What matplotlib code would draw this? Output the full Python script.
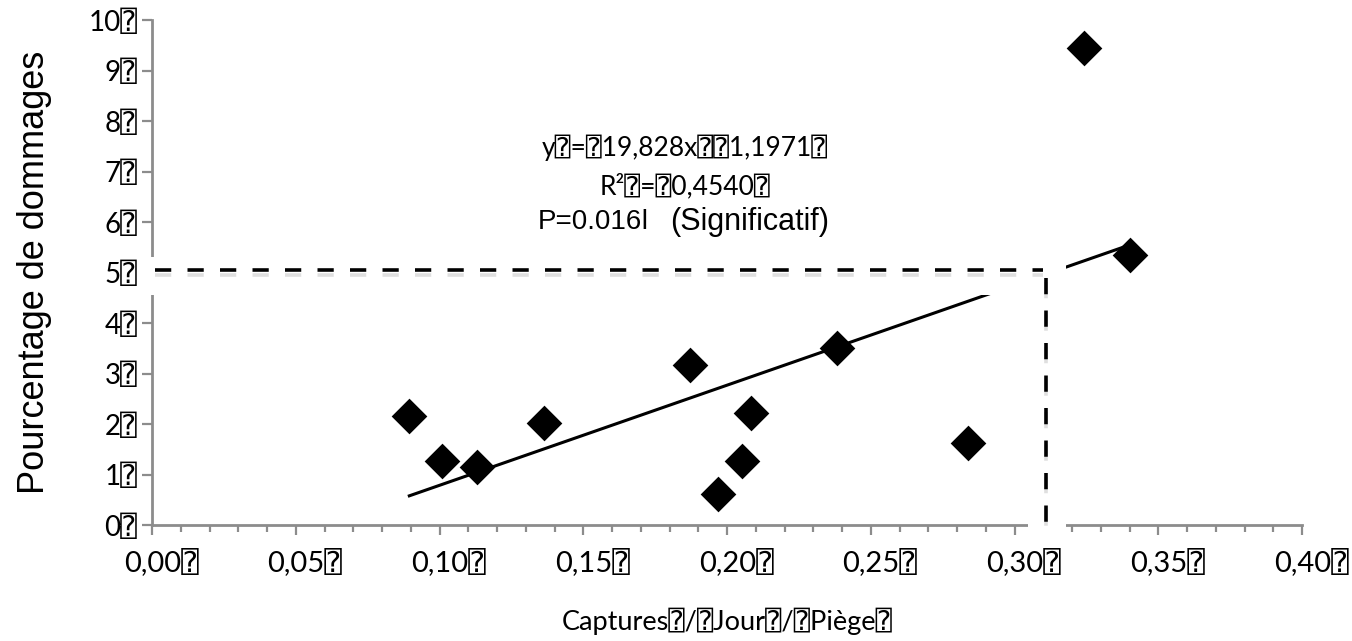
import numpy as np
import matplotlib
matplotlib.use('Agg')
import matplotlib.pyplot as plt
import matplotlib.patheffects as pe
from matplotlib.patches import Rectangle
from matplotlib.transforms import ScaledTranslation

# captures / jour / piege  vs  pourcentage de dommages
captures = [0.0895, 0.1008, 0.1129, 0.1365, 0.1871, 0.1970,
            0.2051, 0.2083, 0.2384, 0.2838, 0.3243, 0.3402]
dommages = [2.16, 1.27, 1.15, 2.01, 3.17, 0.61,
            1.27, 2.22, 3.50, 1.62, 9.44, 5.35]

pente = 19.828
origine = -1.1971

seuil_y = 5.05
seuil_x = 0.311

x_ticks = [0.0, 0.05, 0.10, 0.15, 0.20, 0.25, 0.30, 0.35, 0.40]
x_labels = ['0,00⍰', '0,05⍰', '0,10⍰', '0,15⍰', '0,20⍰', '0,25⍰', '0,30⍰', '0,35⍰', '0,40⍰']
y_ticks = list(range(0, 11))
y_labels = [f'{v}⍰' for v in y_ticks]

calibri_like = ['Lato', 'DejaVu Sans', 'DejaVu Sans Mono']
arial_like = ['Liberation Sans', 'DejaVu Sans', 'DejaVu Sans Mono']
grey = '#8c8c8c'

fig = plt.figure(figsize=(13.52, 6.41), dpi=100)
ax = fig.add_axes([152/1352, 1 - 525/641, 1150/1352, 505/641])

ax.scatter(captures, dommages, marker='D', s=330, color='black', zorder=3, linewidths=0)

xl = np.array([min(captures), max(captures)])
ax.plot(xl, pente*xl + origine, color='black', lw=2.2, zorder=2)

ax.set_xlim(0, 0.40)
ax.set_ylim(0, 10)
for s in ['top', 'right']:
    ax.spines[s].set_visible(False)
for s in ['left', 'bottom']:
    ax.spines[s].set_color(grey)
    ax.spines[s].set_linewidth(2)

ax.set_xticks(x_ticks)
ax.set_xticklabels(x_labels, family=calibri_like, fontsize=21)
ax.set_xticks(np.arange(0, 0.401, 0.01), minor=True)
ax.set_yticks(y_ticks)
ax.set_yticklabels(y_labels, family=calibri_like, fontsize=20)
ax.tick_params(axis='both', which='major', direction='out', length=7.5, width=1.6, color=grey, pad=9)
ax.tick_params(axis='x', which='minor', direction='out', length=5, width=1.6, color=grey)
ax.tick_params(axis='y', pad=3)

offset = ScaledTranslation(9/100, 0, fig.dpi_scale_trans)
for lab in ax.get_xticklabels():
    lab.set_transform(lab.get_transform() + offset)

ax.set_xlabel('Captures⍰/⍰Jour⍰/⍰Piège⍰', family=calibri_like, fontsize=19.5, labelpad=23)
ax.set_ylabel('Pourcentage de dommages', family=arial_like, fontsize=26, labelpad=26)

# equation
ax.text(0.1854, 7.47, 'y⍰=⍰19,828x⍰⍰1,1971⍰', family=calibri_like, fontsize=19,
        ha='center', va='center')
ax.text(0.1854, 6.71, 'R²⍰=⍰0,4540⍰', family=calibri_like, fontsize=19,
        ha='center', va='center')
ax.text(0.1343, 6.0, 'P=0.016ǀ', family=arial_like, fontsize=20, ha='left', va='center')
ax.text(0.1802, 6.0, '(Significatif)', family=arial_like, fontsize=22, ha='left', va='center')

# white masks (axis break look)
ax.add_patch(Rectangle((-0.0045, 4.55), 0.3214, 0.76, facecolor='white', edgecolor='none',
                       clip_on=False, zorder=5))
ax.add_patch(Rectangle((0.3047, -0.4), 0.0132, 5.71, facecolor='white', edgecolor='none',
                       clip_on=False, zorder=5))

shadow = [pe.SimpleLineShadow(offset=(0, -3.5), shadow_color='grey', alpha=0.25), pe.Normal()]
ax.plot([0.001, seuil_x - 0.001], [seuil_y, seuil_y], color='black', lw=2.6,
        dashes=(4.5, 4.5), clip_on=False, zorder=6, path_effects=shadow)
ax.plot([seuil_x, seuil_x], [seuil_y - 0.15, 0.0], color='black', lw=2.6,
        dashes=(4.5, 4.5), clip_on=False, zorder=6, path_effects=shadow)

fig.savefig('out.png', dpi=100)
